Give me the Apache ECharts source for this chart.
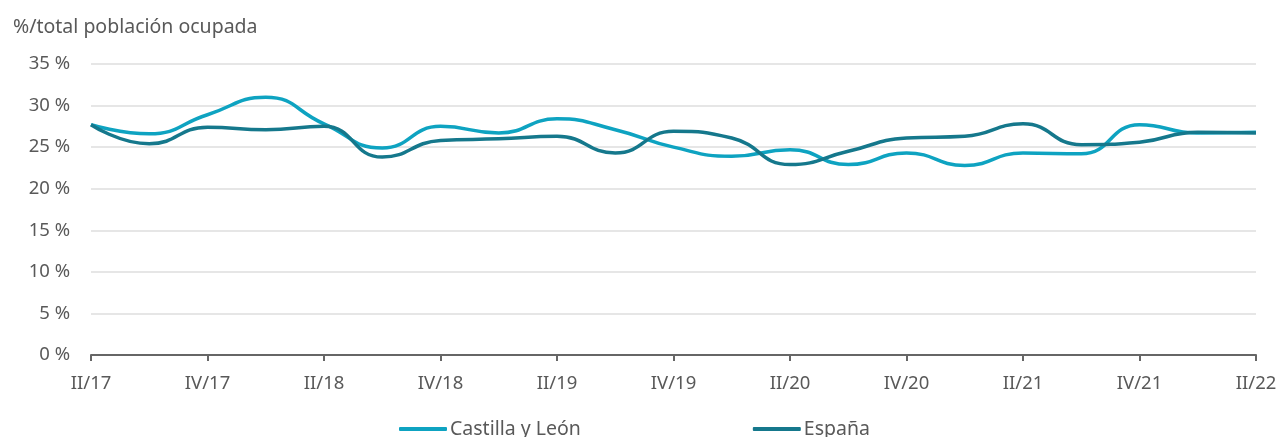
<!DOCTYPE html>
<html>
<head>
<meta charset="utf-8">
<script src="https://cdn.jsdelivr.net/npm/echarts@6/dist/echarts.min.js"></script>
<style>
  html, body { margin: 0; padding: 0; background: #fff; }
  #chart { width: 1283px; height: 437px; }
</style>
</head>
<body>
<div id="chart"></div>
<script>
  // trimestres II/17 .. II/22
  const quarters = ['II/17', 'III/17', 'IV/17', 'I/18', 'II/18', 'III/18', 'IV/18', 'I/19', 'II/19', 'III/19', 'IV/19',
    'I/20', 'II/20', 'III/20', 'IV/20', 'I/21', 'II/21', 'III/21', 'IV/21', 'I/22', 'II/22'];
  const castillaLeon = [27.7, 26.6, 28.9, 31.0, 27.8, 24.9, 27.5, 26.7, 28.4, 27.1, 25.0,
    23.9, 24.7, 22.9, 24.3, 22.8, 24.3, 24.2, 27.7, 26.7, 26.8];
  const espana = [27.7, 25.4, 27.4, 27.1, 27.5, 23.8, 25.8, 26.0, 26.3, 24.3, 26.9,
    26.1, 22.9, 24.5, 26.1, 26.3, 27.8, 25.3, 25.6, 26.8, 26.7];
  const yTicks = [0, 5, 10, 15, 20, 25, 30, 35];

  const textColor = '#595959';
  const font = 'Noto Sans';

  let chart = echarts.init(document.getElementById('chart'));
  let option = {
    animation: false,
    backgroundColor: '#fff',
    color: ['#0ea3c1', '#15788c'],
    title: {
      text: '%/total población ocupada',
      left: 8,
      top: 12,
      textStyle: { fontFamily: font, fontSize: 19.5, fontWeight: 'normal', color: textColor }
    },
    grid: { left: 91, right: 27, top: 64, bottom: 82 },
    legend: {
      left: 394,
      top: 414,
      itemWidth: 48,
      itemHeight: 4,
      itemGap: 172,
      icon: 'roundRect',
      textStyle: { fontFamily: font, fontSize: 19.5, color: textColor, padding: [0, 0, 0, -2] },
      data: ['Castilla y León', 'España']
    },
    xAxis: {
      type: 'category',
      boundaryGap: false,
      data: quarters,
      axisLine: { lineStyle: { color: '#666', width: 2 } },
      axisTick: { interval: 1, length: 6, lineStyle: { color: '#666', width: 2 } },
      axisLabel: { interval: 1, margin: 19, fontFamily: font, fontSize: 18.5, color: textColor }
    },
    yAxis: {
      type: 'value',
      min: yTicks[0],
      max: yTicks[yTicks.length - 1],
      interval: 5,
      axisLine: { show: false },
      axisTick: { show: false },
      splitLine: { lineStyle: { color: '#e6e6e6', width: 2 } },
      axisLabel: { margin: 21, fontFamily: font, fontSize: 18.5, color: textColor, formatter: '{value} %' }
    },
    series: [
      {
        name: 'Castilla y León',
        type: 'line',
        smooth: 0.5,
        symbol: 'none',
        lineStyle: { width: 3.5 },
        data: castillaLeon
      },
      {
        name: 'España',
        type: 'line',
        smooth: 0.5,
        symbol: 'none',
        lineStyle: { width: 3.5 },
        data: espana
      }
    ]
  };
  chart.setOption(option);
</script>
</body>
</html>
